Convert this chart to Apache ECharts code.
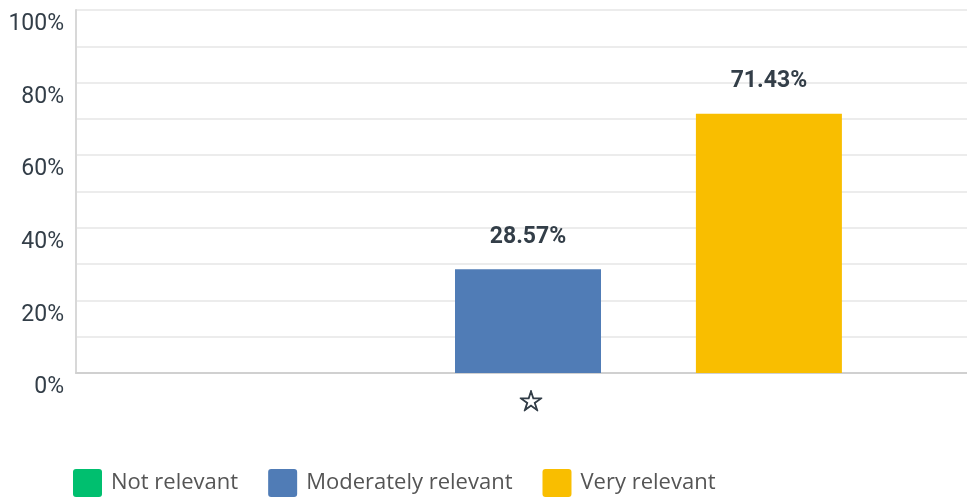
<!DOCTYPE html>
<html>
<head>
<meta charset="utf-8">
<script src="https://cdn.jsdelivr.net/npm/echarts@6/dist/echarts.min.js"></script>
<style>
  html, body { margin: 0; padding: 0; background: #fff; overflow: hidden; }
  /* the plot area runs slightly past the visible right edge */
  #chart { width: 980px; height: 500px; }
</style>
</head>
<body>
<div id="chart"></div>
<script>
// Answer categories and their shares (%)
const categories = ['☆'];
const seriesNames = ['Not relevant', 'Moderately relevant', 'Very relevant'];
const notRelevant = [0];
const moderatelyRelevant = [28.57];
const veryRelevant = [71.43];
const yTicks = [0, 20, 40, 60, 80, 100];

const colors = ['#00bf6f', '#507cb6', '#f9be00'];
const values = [notRelevant, moderatelyRelevant, veryRelevant];

const chart = echarts.init(document.getElementById('chart'));

const series = seriesNames.map((name, i) => ({
  name: name,
  type: 'bar',
  data: values[i],
  barWidth: 146,
  barGap: '65%',
  itemStyle: { color: colors[i] },
  label: {
    show: values[i][0] > 0,
    position: 'top',
    distance: 21,
    formatter: p => p.value.toFixed(2) + '%',
    fontFamily: 'Roboto, sans-serif',
    fontWeight: 'bold',
    fontSize: 23,
    color: '#333e48'
  }
}));

chart.setOption({
  animation: false,
  color: colors,
  grid: { left: 76, right: 0, top: 10, bottom: 127, containLabel: false },
  legend: {
    data: seriesNames,
    left: 73,
    top: 469,
    padding: 0,
    itemWidth: 29,
    itemHeight: 28,
    itemGap: 30,
    icon: 'path://M3,0 L26,0 Q29,0 29,3 L29,25 Q29,28 26,28 L3,28 Q0,28 0,25 L0,3 Q0,0 3,0 Z',
    textStyle: { fontFamily: '"Open Sans", sans-serif', fontSize: 22, color: '#555', padding: [6, 0, 0, 4] }
  },
  xAxis: {
    type: 'category',
    data: categories,
    axisLine: { lineStyle: { color: '#d0d0d0', width: 2 } },
    axisTick: { show: false },
    axisLabel: {
      fontSize: 29, color: '#333e48', margin: 16,
      padding: [0, 0, 0, 6],
      fontFamily: 'DejaVu Sans, sans-serif',
      textBorderColor: '#333e48', textBorderWidth: 1
    }
  },
  yAxis: {
    type: 'value',
    min: 0,
    max: 100,
    interval: 10,
    axisLine: { show: true, lineStyle: { color: '#d8d8d8', width: 2 } },
    axisTick: { show: false },
    splitLine: { lineStyle: { color: '#ececec', width: 2 } },
    axisLabel: {
      margin: 12,
      verticalAlign: 'top',
      padding: [3, 0, 0, 0],
      fontFamily: 'Roboto, sans-serif',
      fontSize: 23,
      color: '#333e48',
      formatter: v => yTicks.includes(v) ? v + '%' : ''
    }
  },
  series: series
});
</script>
</body>
</html>
